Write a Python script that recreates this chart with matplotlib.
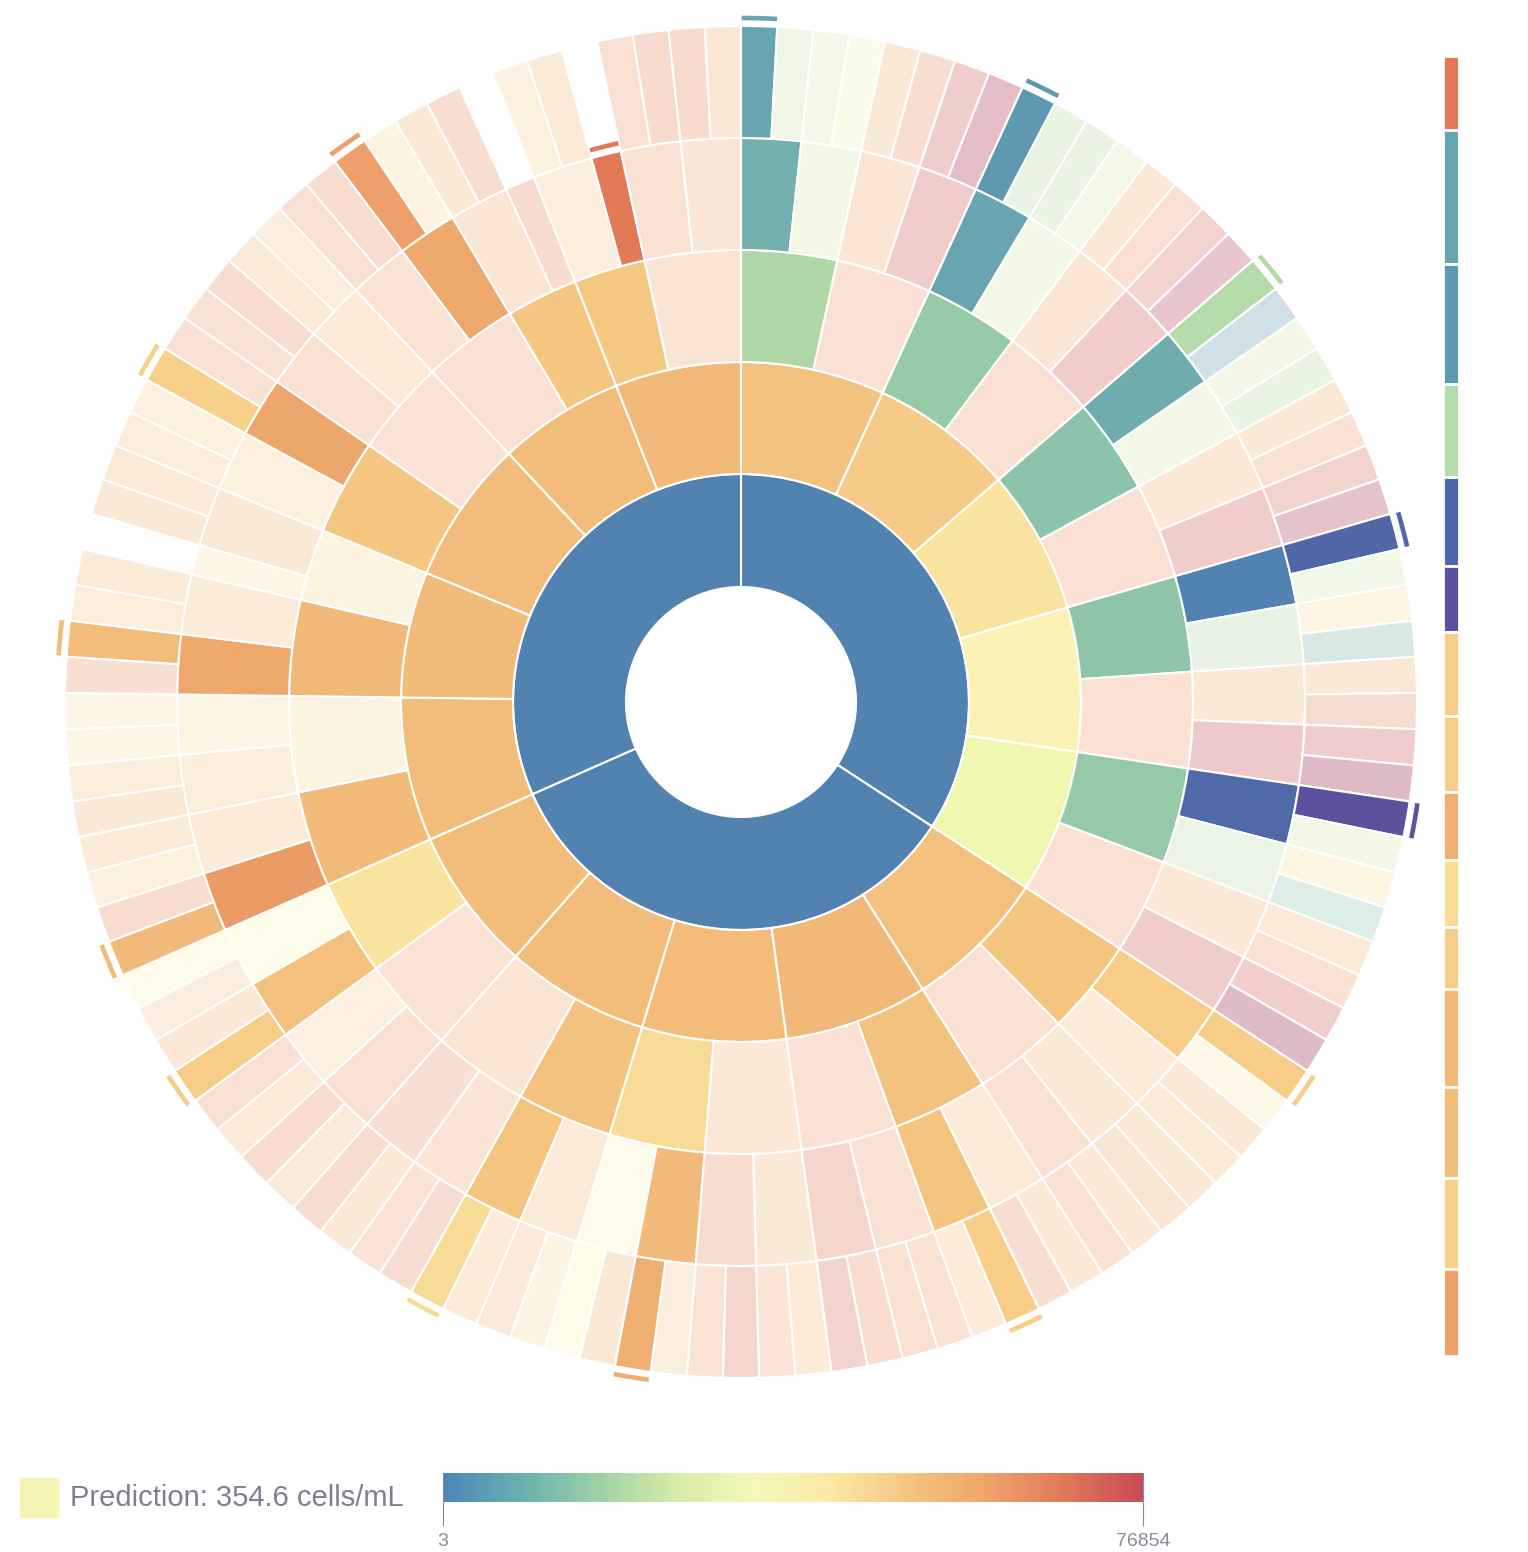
import numpy as np
import matplotlib.pyplot as plt
from matplotlib.colors import LinearSegmentedColormap, LogNorm
from matplotlib.patches import Rectangle

# every leaf of the tree gets one slot, ring sizes are counted in slots
ring1_sizes = [40, 40, 37]
ring1_colors = ['#5282B0', '#5282B0', '#5282B0']

ring2_sizes = [8, 8, 8, 8, 8, 8, 8, 8, 8, 8, 8, 7, 8, 7, 7]
ring2_colors = ['#F3C27E', '#F5CB87', '#F9E39E', '#FBF3B5', '#F0F7B0',
                '#F3C07D', '#F1B877', '#F3BC7A', '#F2BC7A', '#F2BC7B',
                '#F2BC7B', '#F1BB79', '#F2BD7C', '#F2BC7B', '#F1B97A']

ring3_sizes = [4, 4, 4, 4, 4, 4, 4, 4, 4, 4, 4, 4, 4, 4, 4, 4, 4, 4, 4, 4,
               4, 4, 4, 3, 4, 4, 4, 3, 3, 4]
ring3_colors = ['#B0D8A6', '#FAE1D3', '#97CBA8', '#FAE1D3', '#8BC3AB', '#FAE1D3',
                '#8FC6A9', '#FAE1D3', '#95C9A7', '#FAE1D3', '#F4C57F', '#FAE1D3',
                '#F3C27E', '#FAE1D3', '#FBE8D7', '#F8DC95', '#F3C27E', '#FAE5D5',
                '#FAE3D5', '#F9E39E', '#F2BB7A', '#FCF3E0', '#F1B979', '#FCF3E0',
                '#F4C680', '#FAE3D5', '#FAE1D3', '#F4C680', '#F5C882', '#FAE5D5']

ring4_sizes = [2] * 44 + [2, 2, 1, 2, 2, 2, 2, 2, 2, 2, 2, 1, 2, 1, 2, 2]
ring4_colors = ['#74B1AE', '#F3F8E6', '#FBE6D6', '#F0CDCB',
                '#68A5B0', '#F3F8E6', '#FBE6D6', '#F0CDCB',
                '#6FACAD', '#F3F8E6', '#FBE8D7', '#F0CDCB',
                '#5182B1', '#E9F3E5', '#FBE9D8', '#EDC9CB',
                '#4F6AA8', '#EAF5E5', '#FBE9D8', '#F0CDCB',
                '#F7CD88', '#FCEBD9', '#FBE9D8', '#F9E1D4',
                '#FBEAD8', '#F4C57F', '#F9E1D4', '#F5D6CD',
                '#FBE9D8', '#F7DCD0', '#F2BB7B', '#FDFCEB',
                '#FBEAD8', '#F4C57F', '#F9E4D5', '#F8DFD3',
                '#F9E0D3', '#FCF1E0', '#F3C07D', '#FEFCEA',
                '#EB9C64', '#FCEBD9', '#FCEEDD', '#FDF5E3',
                '#EEA86B', '#FCEBD8', '#FDF6E4', '#FBE9D8',
                '#FCF1DF', '#EDA66B', '#F9E1D4', '#FBEAD8',
                '#FAE2D4', '#EEA86B', '#FBE6D6', '#F7DBCF',
                '#FCEFDD', '#E27A57', '#F9E1D3', '#FAE6D6']

# outer ring, one entry per slot, None where the leaf ends one ring earlier
ring5_colors = [
    '#67A5B0', '#EFF6E5', '#F4F8E6', '#FAFBE8', '#FBE9D8', '#F8DED1', '#F0CECC', '#E3BEC6',
    '#5E98B1', '#EAF4E3', '#EAF4E3', '#F4F8E6', '#FBE9D8', '#F9E0D3', '#F3D3CD', '#E8C6CB',
    '#B4DBA8', '#CFE0E6', '#F3F8E6', '#E9F4E3', '#FBE9D8', '#F9E2D4', '#F3D3CE', '#E6C3CA',
    '#5168A8', '#F2F8E7', '#FDF4E2', '#D8E9E3', '#FBE9D8', '#F7DDD1', '#EFCDCC', '#DEBAC6',
    '#5C519C', '#F3F8E6', '#FDF4E2', '#DDEEE6', '#FCEAD8', '#F9E1D3', '#F3CFCC', '#DFBAC7',
    '#F7CD88', '#FEF8E8', '#FBE9D8', '#FBEAD8', '#FBE9D8', '#F9E5D4', '#FBE8D7', '#F9E2D4',
    '#FBE9D8', '#F8DDD1', '#F7CD88', '#FCEBD8', '#F9E1D4', '#F8E0D3', '#F8DDD0', '#F3D3CD',
    '#FCEBD8', '#F9E4D6', '#F5D6CD', '#F9E3D5', '#FCEEDE', '#EFAE72', '#FBE9D8', '#FEFCE9',
    '#FDF3E3', '#FBEAD9', '#FCEBD8', '#F8DB95', '#F7DDD1', '#FAE3D5', '#FBE9D8', '#F7DCD0',
    '#FAEAD9', '#F7DCCF', '#FBEAD8', '#F8E0D3', '#F7CD88', '#FBE8D7', '#FCEEDE', '#FDFCEB',
    '#F2BA7A', '#F8DCD0', '#FCF0DE', '#FCEBD9', '#FBE9D8', '#FCEEDD', '#FDF6E4', '#FDF6E4',
    '#F8DFD3', '#F2BC7A', '#FCEDDC', '#FCEBD9', None, '#FBE9D8', '#FCEAD8',
    '#FCEDDC', '#FCF1DF', '#F7D18A', '#F9E1D3', '#F8E2D4', '#F8DCD0', '#FBEAD8', '#FCEEDC',
    '#F8E0D3', '#F8DCD0', '#EEA06A', '#FCF3E1', '#FBE9D8', '#F8DDD1', None,
    '#FCF1DF', '#FCEAD8', None, '#F9E0D3', '#F7DBCF', '#F7DBCF', '#FBE7D6']

# highlighted leaves (slot index) and their share in the side bar, top to bottom
marked_slots = [112, 0, 8, 16, 24, 32, 40, 50, 61, 67, 76, 80, 89, 97, 105]
marked_share = [74, 133, 119, 93, 88, 66, 83, 76, 68, 66, 62, 97, 91, 90, 87]

prediction = 354.6
scale_min, scale_max = 3, 76854
scale_colors = ['#4A86B8', '#6AB0AE', '#9ED1A6', '#D5ECA8', '#F5F8BA',
                '#FBE8A4', '#F5C481', '#EFA469', '#E0785A', '#C84B55']

W, H = 1528, 1552
cx, cy, rmax = 741, 702, 700
radii = [115, 228, 340, 452, 564, 676]
n_slots = len(ring5_colors)
slot = 2 * np.pi / n_slots
grey = '#8A8A99'

fig = plt.figure(figsize=(W / 100, H / 100), dpi=100)
ax = fig.add_axes([(cx - rmax) / W, (H - cy - rmax) / H, 2 * rmax / W, 2 * rmax / H],
                  projection='polar')
ax.set_theta_zero_location('N')
ax.set_theta_direction(-1)
ax.set_ylim(0, rmax)
ax.set_axis_off()


def draw_ring(sizes, colors, r0, r1):
    starts = np.concatenate([[0], np.cumsum(sizes)[:-1]])
    keep = [i for i, c in enumerate(colors) if c is not None]
    ax.bar(starts[keep] * slot, r1 - r0, width=np.array(sizes)[keep] * slot, bottom=r0,
           align='edge', color=[colors[i] for i in keep], edgecolor='white', linewidth=1.5)


rings = [(ring1_sizes, ring1_colors), (ring2_sizes, ring2_colors), (ring3_sizes, ring3_colors),
         (ring4_sizes, ring4_colors), ([1] * n_slots, ring5_colors)]
for k, (sizes, colors) in enumerate(rings):
    draw_ring(sizes, colors, radii[k], radii[k + 1])

# which ring-4 node each slot falls in
ring4_of_slot = np.repeat(np.arange(len(ring4_sizes)), ring4_sizes)


def leaf_color(s):
    if ring5_colors[s] is not None:
        return ring5_colors[s], radii[5]
    return ring4_colors[ring4_of_slot[s]], radii[4]


mark_colors = []
for s in marked_slots:
    c, r_out = leaf_color(s)
    mark_colors.append(c)
    ax.bar(s * slot, 6, width=slot, bottom=r_out + 5, align='edge', color=c,
           edgecolor='white', linewidth=1.0)

# side bar with the highlighted leaves
sax = fig.add_axes([1443 / W, (H - 1356) / H, 16 / W, 1300 / H])
bottoms = np.concatenate([[0], np.cumsum(marked_share)[:-1]])
sax.bar(0, marked_share, bottom=bottoms, width=1, color=mark_colors,
        edgecolor='white', linewidth=2, align='edge')
sax.set_xlim(0, 1)
sax.set_ylim(sum(marked_share), 0)
sax.set_axis_off()

# colour scale
cmap = LinearSegmentedColormap.from_list('pred', scale_colors)
norm = LogNorm(scale_min, scale_max)
cax = fig.add_axes([443 / W, (H - 1502) / H, 700 / W, 29 / H])
edges = np.geomspace(scale_min, scale_max, 300)
mids = np.sqrt(edges[:-1] * edges[1:])
cax.pcolormesh(edges, [0, 1], mids[np.newaxis, :], cmap=cmap, norm=norm, shading='flat')
cax.set_xscale('log')
cax.set_xlim(scale_min, scale_max)
cax.set_ylim(0, 1)
cax.set_yticks([])
cax.set_xticks([scale_min, scale_max])
cax.set_xticklabels([str(scale_min), str(scale_max)])
cax.minorticks_off()
for side in ['top', 'bottom']:
    cax.spines[side].set_visible(False)
for side in ['left', 'right']:
    cax.spines[side].set_color(grey)
    cax.spines[side].set_linewidth(0.8)
cax.tick_params(axis='x', length=17, width=0.8, color=grey, labelcolor=grey,
                labelsize=14, pad=5)
for lab in cax.get_xticklabels():
    lab.set_family('Liberation Sans')

# legend
fig.add_artist(Rectangle((20 / W, 1 - 1517 / H), 38 / W, 39 / H, transform=fig.transFigure,
                         color=cmap(norm(prediction))))
fig.text(70 / W, 1 - 1498 / H, 'Prediction: {} cells/mL'.format(prediction), va='center',
         ha='left', fontsize=21, color='#7F7F8E', family='Liberation Sans')

fig.savefig('out.png', dpi=100)
